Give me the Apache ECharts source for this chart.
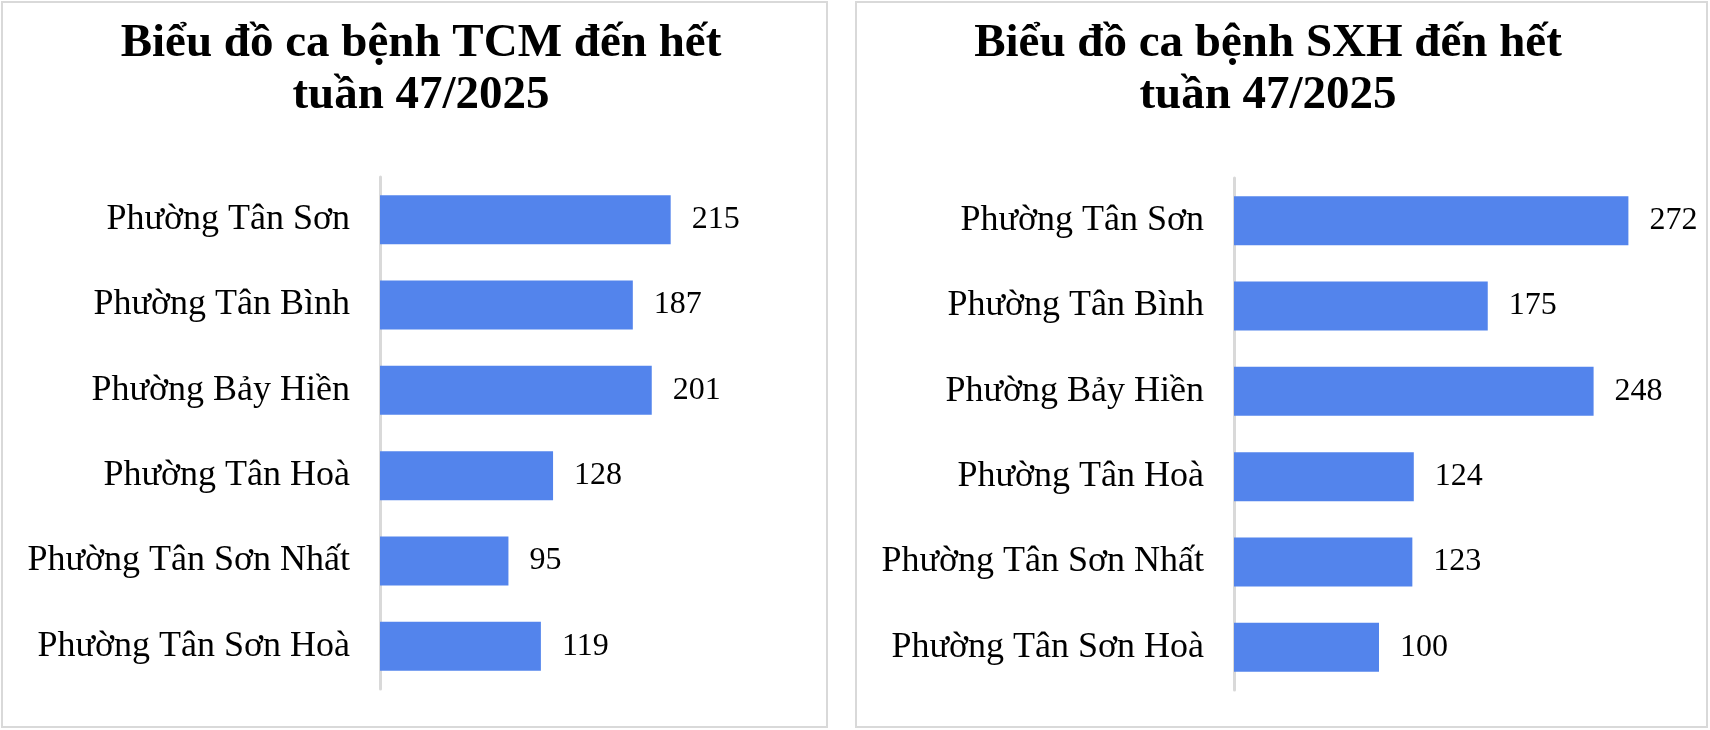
<!DOCTYPE html>
<html>
<head>
<meta charset="utf-8">
<script src="https://cdn.jsdelivr.net/npm/echarts@6/dist/echarts.min.js"></script>
<style>
html,body{margin:0;padding:0;background:#fff;}
#chart{width:1710px;height:730px;}
</style>
</head>
<body>
<div id="chart"></div>
<script>
const categories = ["Phường Tân Sơn", "Phường Tân Bình", "Phường Bảy Hiền", "Phường Tân Hoà", "Phường Tân Sơn Nhất", "Phường Tân Sơn Hoà"];
const tcmValues = [215, 187, 201, 128, 95, 119];
const sxhValues = [272, 175, 248, 124, 123, 100];
const titleTCM = "Biểu đồ ca bệnh TCM đến hết\ntuần 47/2025";
const titleSXH = "Biểu đồ ca bệnh SXH đến hết\ntuần 47/2025";

const FONT = "'Times New Roman', 'Liberation Serif', serif";
const BAR = '#5384EC';
const GRAYLINE = '#d9d9d9';

const chart = echarts.init(document.getElementById('chart'), null, {renderer: 'canvas'});

function yAxisFor(gi) {
  return {
    type: 'category', gridIndex: gi, data: categories, inverse: true,
    axisLine: {show: true, lineStyle: {color: GRAYLINE, width: 3}},
    axisTick: {show: false},
    axisLabel: {color: '#000', fontFamily: FONT, fontSize: 36, margin: 30}
  };
}
function xAxisFor(gi, max) {
  return {
    type: 'value', gridIndex: gi, min: 0, max: max, interval: 50,
    show: false, splitLine: {show: false}
  };
}
function seriesFor(gi, data) {
  return {
    type: 'bar', xAxisIndex: gi, yAxisIndex: gi, data: data,
    barWidth: 49,
    itemStyle: {color: BAR},
    label: {show: true, position: 'right', distance: 21, color: '#000', fontFamily: FONT, fontSize: 32},
    silent: true
  };
}

chart.setOption({
  animation: false,
  backgroundColor: '#fff',
  title: [
    {text: titleTCM, left: 421, top: 18, textAlign: 'center', padding: 0,
     textStyle: {fontFamily: FONT, fontWeight: 'bold', fontSize: 47, lineHeight: 52, color: '#000'}},
    {text: titleSXH, left: 1268, top: 18, textAlign: 'center', padding: 0,
     textStyle: {fontFamily: FONT, fontWeight: 'bold', fontSize: 47, lineHeight: 52, color: '#000'}}
  ],
  graphic: [
    {type: 'rect', shape: {x: 2, y: 2, width: 825, height: 725}, style: {fill: 'none', stroke: GRAYLINE, lineWidth: 2}, z: -1},
    {type: 'rect', shape: {x: 856, y: 2, width: 851, height: 725}, style: {fill: 'none', stroke: GRAYLINE, lineWidth: 2}, z: -1}
  ],
  grid: [
    {left: 380, top: 177, width: 338, height: 512},
    {left: 1234, top: 178, width: 435, height: 512}
  ],
  xAxis: [xAxisFor(0, 250), xAxisFor(1, 300)],
  yAxis: [yAxisFor(0), yAxisFor(1)],
  series: [seriesFor(0, tcmValues), seriesFor(1, sxhValues)]
});
</script>
</body>
</html>
